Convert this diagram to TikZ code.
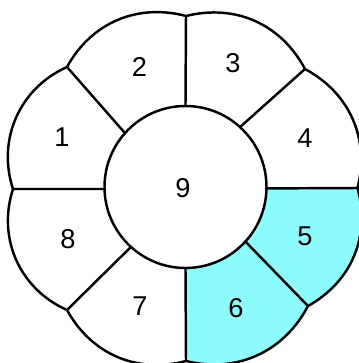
\documentclass[tikz,border=0pt]{standalone}
\usepackage{fontspec}
\setmainfont{Liberation Sans}
\usepackage{tikz}
\definecolor{cellcyan}{RGB}{140,252,252}

\begin{document}
\begin{tikzpicture}[
    x=0.02cm, y=0.02cm,
    edge/.style={line width=1.4pt, black, line join=round},
    num/.style={font=\fontsize{15.5}{18}\selectfont, inner sep=0pt},
    petal/.style={bend left=38}
]
\clip (-185.5,-176) rectangle (173.5,187);

% spoke ends on the circle and on the rim
\coordinate (O) at (0,0);
\coordinate (t-in) at (90:81);      \coordinate (t-out) at (0.5,171);
\coordinate (ur-in) at (47.7:81);   \coordinate (ur-out) at (119.5,118);
\coordinate (r-in) at (-1:81);      \coordinate (r-out) at (172,-1);
\coordinate (lr-in) at (-42.3:81);  \coordinate (lr-out) at (122.5,-119);
\coordinate (b-in) at (-90:81);     \coordinate (b-out) at (0.5,-174);
\coordinate (ll-in) at (227.7:81);  \coordinate (ll-out) at (-118.5,-123);
\coordinate (l-in) at (181.4:81);   \coordinate (l-out) at (-172.5,-2);
\coordinate (ul-in) at (138.3:81);  \coordinate (ul-out) at (-118.5,120);

% cells 5 and 6
\fill[cellcyan] (r-in) -- (r-out) to[petal] (lr-out) to[petal] (b-out) -- (b-in)
    arc[start angle=-90, end angle=-1, radius=81] -- cycle;

% rim
\draw[edge] (t-out) to[petal] (ur-out) to[petal] (r-out) to[petal] (lr-out)
    to[petal] (b-out) to[petal] (ll-out) to[petal, bend left=42] (l-out)
    to[petal, bend left=42] (ul-out) to[petal] (t-out) -- cycle;

\draw[edge] (O) circle[radius=81];
\draw[edge] (t-in) -- (t-out);
\draw[edge] (ur-in) -- (ur-out);
\draw[edge] (r-in) -- (r-out);
\draw[edge] (lr-in) -- (lr-out);
\draw[edge] (b-in) -- (b-out);
\draw[edge] (ll-in) -- (ll-out);
\draw[edge] (l-in) -- (l-out);
\draw[edge] (ul-in) -- (ul-out);

\node[num] (n1) at (-123.5,50) {1};
\node[num] (n2) at (-46,120) {2};
\node[num] (n3) at (47.5,124) {3};
\node[num] (n4) at (119.5,49) {4};
\node[num] (n5) at (119.5,-49) {5};
\node[num] (n6) at (50.5,-121) {6};
\node[num] (n7) at (-45.5,-119) {7};
\node[num] (n8) at (-117.5,-52) {8};
\node[num] (n9) at (-2.5,-1) {9};
\end{tikzpicture}
\end{document}
